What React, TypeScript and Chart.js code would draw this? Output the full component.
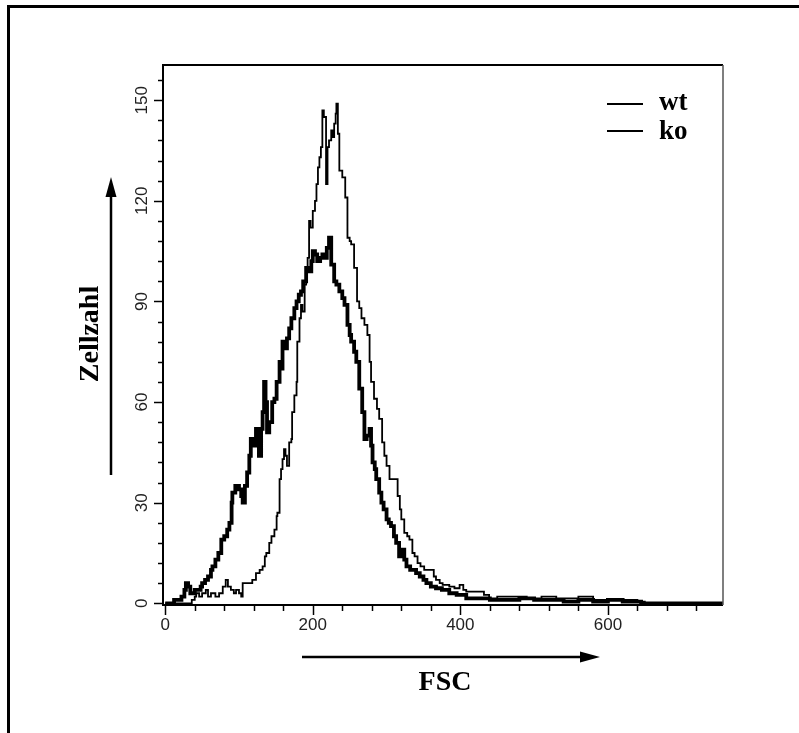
import React, { useEffect, useRef } from "react";
import { Chart, registerables } from "chart.js";

Chart.register(...registerables);

// ---- data (FSC channel vs cell count) ----
const wtX = [0, 33, 36, 40, 42, 46, 50, 55, 58, 62, 64, 68, 73, 78, 82, 85, 89, 93, 96, 100, 103, 105, 110, 114, 118, 123, 128, 132, 135, 137, 141, 144, 148, 151, 152, 155, 157, 159, 161, 163, 165, 168, 171, 172, 175, 178, 179, 182, 184, 186, 189, 191, 193, 195, 197, 200, 203, 205, 207, 209, 211, 213, 215, 218, 220, 222, 225, 227, 229, 231, 232, 234, 236, 240, 244, 247, 250, 252, 256, 260, 263, 266, 270, 274, 277, 279, 283, 287, 290, 294, 297, 300, 304, 308, 311, 315, 318, 320, 324, 328, 331, 335, 338, 342, 346, 351, 356, 361, 364, 367, 372, 376, 385, 392, 399, 404, 408, 420, 426, 432, 439, 450, 470, 490, 510, 530, 560, 580, 600, 620, 640, 650, 756];
const wtY = [0, 0, 1, 2, 3, 2, 3, 4, 2, 3, 3, 2, 3, 5, 7, 5, 4, 3, 4, 3, 2, 6, 6, 6, 7, 9, 10, 11, 14, 15, 18, 20, 22, 26, 27, 37, 40, 43, 46, 44, 41, 48, 49, 57, 62, 66, 78, 85, 89, 87, 95, 99, 103, 114, 112, 117, 120, 125, 130, 133, 136, 147, 145, 125, 136, 138, 141, 139, 143, 146, 149, 140, 129, 127, 121, 109, 108, 107, 100, 90, 88, 85, 83, 80, 72, 66, 61, 58, 55, 48, 44, 41, 37, 37, 37, 32, 28, 25, 21, 20, 19, 15, 14, 12, 11, 10, 10, 10, 8, 7, 6, 5.5, 5, 4.5, 5.5, 4, 3.5, 3.5, 3.5, 2.5, 1.5, 2, 2, 1.5, 2, 1.5, 2, 1, 1, 1, 0.5, 0, 0];

const koX = [0, 8, 12, 18, 22, 26, 28, 31, 34, 37, 40, 44, 48, 50, 54, 58, 62, 64, 68, 72, 76, 80, 84, 87, 90, 91, 95, 100, 103, 105, 108, 111, 114, 116, 119, 123, 125, 127, 130, 132, 134, 136, 138, 141, 145, 148, 151, 155, 157, 159, 162, 165, 168, 171, 175, 178, 181, 184, 187, 191, 194, 198, 200, 203, 206, 210, 213, 216, 219, 222, 225, 229, 232, 236, 240, 243, 247, 250, 252, 256, 259, 263, 267, 270, 273, 277, 279, 281, 284, 286, 290, 293, 296, 300, 303, 306, 310, 313, 317, 321, 324, 327, 332, 336, 340, 345, 350, 354, 360, 367, 375, 385, 395, 408, 420, 440, 460, 480, 500, 520, 540, 560, 580, 600, 620, 640, 645, 756];
const koY = [0, 0, 1, 1, 2, 4, 6, 5, 3, 3, 4, 4, 5, 6, 7, 8, 10, 11, 13, 15, 19, 20, 22, 24, 30, 33, 35, 34, 32, 30, 35, 39, 44, 49, 47, 52, 50, 44, 52, 57, 66, 60, 51, 54, 60, 61, 66, 72, 70, 78, 76, 79, 82, 85, 88, 90, 92, 93, 96, 100, 99, 102, 105, 104, 102, 103, 104, 103, 106, 109, 101, 96, 95, 93, 91, 89, 83, 80, 78, 75, 72, 64, 57, 49, 50, 52, 47, 42, 40, 37, 33, 30, 28, 25, 24, 23, 20, 18, 14, 16, 13, 11, 10, 10, 9, 8, 7, 6, 5, 4.5, 4, 3, 2.5, 1.5, 1.5, 1, 1, 1.5, 1, 1, 0.5, 1, 0.5, 1, 0.5, 0.5, 0, 0];

const seriesNames = ["wt", "ko"];
const xTickLabels = [0, 200, 400, 600];
const yTickLabels = [0, 30, 60, 90, 120, 150];
const xMinorStep = 40;
const yMinorStep = 6;
const xTitle = "FSC";
const yTitle = "Zellzahl";

const SERIF = '"Liberation Serif", "Times New Roman", serif';
const SANS = '"Liberation Sans", Arial, sans-serif';

const decorPlugin = {
  id: "decor",
  afterDraw(chart: any) {
    const ctx = chart.ctx;
    const { left, right, top, bottom } = chart.chartArea;
    const xs = chart.scales.x;
    const ys = chart.scales.y;
    ctx.save();
    // outer frame
    ctx.fillStyle = "#000";
    ctx.fillRect(7, 5, 792, 3);
    ctx.fillRect(7, 5, 3, 728);

    // plot box
    ctx.strokeStyle = "#000";
    ctx.lineWidth = 2;
    ctx.beginPath();
    ctx.moveTo(right, top);
    ctx.lineTo(left, top);
    ctx.lineTo(left, bottom);
    ctx.lineTo(right, bottom);
    ctx.stroke();
    ctx.strokeStyle = "#555";
    ctx.lineWidth = 1.5;
    ctx.beginPath();
    ctx.moveTo(right, top);
    ctx.lineTo(right, bottom);
    ctx.stroke();

    // y ticks
    ctx.strokeStyle = "#000";
    ctx.lineWidth = 1.5;
    for (let v = 0; v <= ys.max; v += yMinorStep) {
      const py = Math.round(ys.getPixelForValue(v)) + 0.5;
      const major = yTickLabels.includes(v);
      ctx.beginPath();
      ctx.moveTo(left, py);
      ctx.lineTo(left - (major ? 9 : 5), py);
      ctx.stroke();
    }
    // x ticks
    for (let v = 0; v <= xs.max; v += xMinorStep) {
      const px = Math.round(xs.getPixelForValue(v)) + 0.5;
      const major = xTickLabels.includes(v);
      ctx.beginPath();
      ctx.moveTo(px, bottom);
      ctx.lineTo(px, bottom + (major ? 10 : 6));
      ctx.stroke();
    }

    // tick labels
    ctx.fillStyle = "#222";
    ctx.font = `17px ${SANS}`;
    ctx.textAlign = "center";
    ctx.textBaseline = "middle";
    for (const v of xTickLabels) {
      ctx.fillText(String(v), xs.getPixelForValue(v), 625);
    }
    for (const v of yTickLabels) {
      const py = ys.getPixelForValue(v);
      ctx.save();
      ctx.translate(142, py);
      ctx.rotate(-Math.PI / 2);
      ctx.fillText(String(v), 0, 0);
      ctx.restore();
    }

    // legend
    ctx.fillStyle = "#000";
    ctx.font = `bold 27px ${SERIF}`;
    ctx.textAlign = "left";
    ctx.textBaseline = "alphabetic";
    const legY = [104, 131];
    const legBase = [110, 139];
    seriesNames.forEach((name, i) => {
      ctx.lineWidth = 2;
      ctx.beginPath();
      ctx.moveTo(607, legY[i]);
      ctx.lineTo(643, legY[i]);
      ctx.stroke();
      ctx.fillText(name, 659, legBase[i]);
    });

    // axis titles
    ctx.font = `bold 28px ${SERIF}`;
    ctx.textAlign = "center";
    ctx.fillText(xTitle, 445, 690);
    ctx.save();
    ctx.translate(98, 334);
    ctx.rotate(-Math.PI / 2);
    ctx.fillText(yTitle, 0, 0);
    ctx.restore();

    // arrows
    ctx.lineWidth = 2.5;
    ctx.beginPath();
    ctx.moveTo(302, 657);
    ctx.lineTo(582, 657);
    ctx.stroke();
    ctx.beginPath();
    ctx.moveTo(600, 657);
    ctx.lineTo(580, 651.5);
    ctx.lineTo(580, 662.5);
    ctx.closePath();
    ctx.fill();

    ctx.beginPath();
    ctx.moveTo(111, 475);
    ctx.lineTo(111, 195);
    ctx.stroke();
    ctx.beginPath();
    ctx.moveTo(111, 177);
    ctx.lineTo(105.5, 197);
    ctx.lineTo(116.5, 197);
    ctx.closePath();
    ctx.fill();

    ctx.restore();
  },
};

export default function App() {
  const ref = useRef<HTMLCanvasElement | null>(null);
  useEffect(() => {
    const canvas = ref.current;
    if (!canvas) return;
    const chart = new Chart(canvas, {
      type: "line",
      data: {
        datasets: [
          {
            label: seriesNames[0],
            data: wtX.map((x, i) => ({ x, y: wtY[i] })),
            borderColor: "#000",
            borderWidth: 1.8,
            pointRadius: 0,
            stepped: true,
            fill: false,
          },
          {
            label: seriesNames[1],
            data: koX.map((x, i) => ({ x, y: koY[i] })),
            borderColor: "#000",
            borderWidth: 3.8,
            pointRadius: 0,
            stepped: true,
            fill: false,
          },
        ],
      },
      options: {
        responsive: false,
        animation: false,
        devicePixelRatio: 1,
        layout: { padding: { left: 163, right: 76, top: 65, bottom: 128 } },
        plugins: { legend: { display: false }, tooltip: { enabled: false } },
        scales: {
          x: { type: "linear", min: -3, max: 756, display: false },
          y: { type: "linear", min: -0.5, max: 160.5, display: false },
        },
      },
      plugins: [decorPlugin],
    });
    return () => chart.destroy();
  }, []);
  return (
    <div style={{ position: "fixed", left: 0, top: 0, width: 799, height: 733, background: "#fff" }}>
      <canvas ref={ref} width={799} height={733} style={{ display: "block" }} />
    </div>
  );
}
